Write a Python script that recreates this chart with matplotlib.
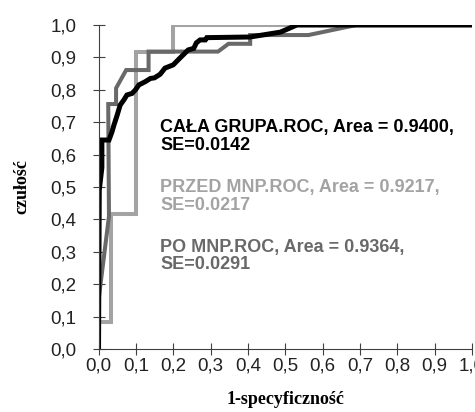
import matplotlib
matplotlib.use("Agg")
import matplotlib.pyplot as plt
from matplotlib.ticker import FuncFormatter

# Krzywe ROC (1-specyficzność, czułość)
przed_x = [0.0, 0.0, 0.033, 0.033, 0.1, 0.1, 0.2, 0.2, 1.0]
przed_y = [0.0, 0.083, 0.083, 0.417, 0.417, 0.917, 0.917, 1.0, 1.0]

po_x = [0.0, 0.0, 0.028, 0.026, 0.047, 0.047, 0.074, 0.134, 0.134, 0.32, 0.348, 0.406, 0.406, 0.562, 0.69, 1.0]
po_y = [0.0, 0.15, 0.41, 0.756, 0.756, 0.805, 0.861, 0.861, 0.918, 0.918, 0.942, 0.942, 0.969, 0.969, 1.0, 1.0]

cala_x = [0.0, 0.002, 0.009, 0.009, 0.028, 0.036, 0.041, 0.05, 0.058, 0.068, 0.076, 0.09, 0.099,
          0.108, 0.125, 0.139, 0.15, 0.165, 0.178, 0.2, 0.218, 0.24, 0.255, 0.262, 0.272, 0.286,
          0.29, 0.406, 0.487, 0.531, 1.0]
cala_y = [0.0, 0.49, 0.56, 0.645, 0.645, 0.67, 0.69, 0.722, 0.753, 0.769, 0.784, 0.789, 0.8,
          0.815, 0.825, 0.835, 0.837, 0.848, 0.867, 0.877, 0.898, 0.923, 0.928, 0.945, 0.954, 0.954,
          0.961, 0.963, 0.978, 1.0, 1.0]

etykiety = ["CAŁA GRUPA.ROC, Area = 0.9400,\nSE=0.0142",
            "PRZED MNP.ROC, Area = 0.9217,\nSE=0.0217",
            "PO MNP.ROC, Area = 0.9364,\nSE=0.0291"]

jasny = "#a3a3a3"
ciemny = "#696969"

fig = plt.figure(figsize=(4.75, 4.12), dpi=100)
ax = fig.add_axes([0.2074, 0.1529, 0.7863, 0.7864])

ax.plot(przed_x, przed_y, color=jasny, lw=2.9, solid_joinstyle="miter")
ax.plot(po_x, po_y, color=ciemny, lw=2.9, solid_joinstyle="miter")
ax.plot(cala_x, cala_y, color="black", lw=3.6, solid_joinstyle="miter")

ax.set_xlim(0, 1.0)
ax.set_ylim(0, 1.0)
ax.set_xticks([i / 10 for i in range(11)])
ax.set_yticks([i / 10 for i in range(11)])
fmt = FuncFormatter(lambda v, p: f"{v:.1f}".replace(".", ","))
ax.xaxis.set_major_formatter(fmt)
ax.yaxis.set_major_formatter(fmt)

for s in ["top", "right"]:
    ax.spines[s].set_visible(False)
for s in ["left", "bottom"]:
    ax.spines[s].set_color("#404040")
    ax.spines[s].set_linewidth(0.8)
ax.spines["left"].set_bounds(0, 1.0)

ax.tick_params(axis="both", direction="inout", length=8, width=0.8, color="#404040",
               labelsize=13.5, labelcolor="#222222")
ax.tick_params(axis="x", pad=2)
ax.tick_params(axis="y", pad=12)
for lab in ax.get_xticklabels() + ax.get_yticklabels():
    lab.set_family("Liberation Sans")

ax.set_xlabel("1-specyficzność", family="Liberation Serif", fontweight="bold", fontsize=13, labelpad=12)
ax.set_ylabel("czułość", family="Liberation Serif", fontweight="bold", fontsize=13, labelpad=14)

kolory = ["black", jasny, ciemny]
pozycje = [0.655, 0.47, 0.287]
for tekst, kol, yy in zip(etykiety, kolory, pozycje):
    ax.text(0.165, yy, tekst, color=kol, family="Liberation Sans", fontweight="bold",
            fontsize=13, va="center", ha="left", linespacing=1.05, transform=ax.transAxes)

fig.savefig("out.png", dpi=100)
